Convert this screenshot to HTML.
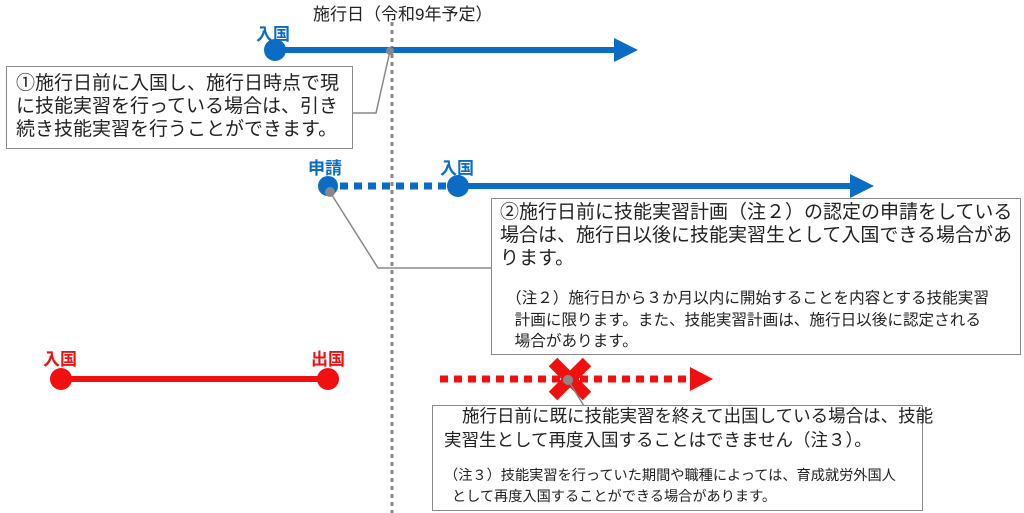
<!DOCTYPE html>
<html><head><meta charset="utf-8"><style>
body{margin:0;width:1024px;height:513px;background:#fff;position:relative;overflow:hidden;font-family:"Liberation Sans","Noto Sans CJK JP",sans-serif;}
.t{position:absolute;white-space:nowrap;color:#222;}
.box{position:absolute;background:#fff;border:1.5px solid #8a8a8a;box-sizing:border-box;}
.b{font-size:19px;line-height:23px;}
.n{font-size:15.6px;line-height:21.5px;}
.lb{position:absolute;font-weight:bold;font-size:17px;}
</style></head><body>
<svg width="1024" height="513" style="position:absolute;left:0;top:0">
<line x1="392" y1="22" x2="392" y2="513" stroke="#888" stroke-width="3" stroke-dasharray="4,4"/>
<line x1="275" y1="50" x2="616" y2="50" stroke="#0a6cc4" stroke-width="6"/>
<polygon points="614,38 638,50 614,62" fill="#0a6cc4"/>
<circle cx="275" cy="50" r="11" fill="#0a6cc4"/>
<line x1="340" y1="186" x2="450" y2="186" stroke="#0a6cc4" stroke-width="7" stroke-dasharray="8,6"/>
<line x1="458" y1="186" x2="852" y2="186" stroke="#0a6cc4" stroke-width="6"/>
<polygon points="850,174 874,186 850,198" fill="#0a6cc4"/>
<circle cx="328" cy="186" r="10" fill="#0a6cc4"/>
<circle cx="458" cy="186" r="11" fill="#0a6cc4"/>
<line x1="61" y1="379" x2="328" y2="379" stroke="#f01010" stroke-width="6"/>
<circle cx="61" cy="379" r="11" fill="#f01010"/>
<circle cx="328" cy="379" r="11" fill="#f01010"/>
<line x1="440" y1="379" x2="692" y2="379" stroke="#f01010" stroke-width="7" stroke-dasharray="8,6"/>
<polygon points="690,367 713,379 690,391" fill="#f01010"/>
<line x1="553" y1="362" x2="587" y2="396" stroke="#f01010" stroke-width="12"/>
<line x1="587" y1="362" x2="553" y2="396" stroke="#f01010" stroke-width="12"/>
<polyline points="352,113 376,113 390,51" fill="none" stroke="#888" stroke-width="1.5"/>
<circle cx="390" cy="51" r="4" fill="#888"/>
<polyline points="330,192 378,268 492,268" fill="none" stroke="#888" stroke-width="1.5"/>
<circle cx="330" cy="192" r="5" fill="#888"/>
<line x1="568" y1="380" x2="584" y2="406" stroke="#888" stroke-width="1.5"/>
<circle cx="568" cy="380" r="5" fill="#888"/>
</svg>
<div class="t" style="left:313px;top:0px;font-size:17px;">施行日（令和9年予定）</div>
<div class="lb" style="left:256px;top:20px;color:#0a6cc4">入国</div>
<div class="lb" style="left:308px;top:154px;color:#0a6cc4">申請</div>
<div class="lb" style="left:440px;top:154px;color:#0a6cc4">入国</div>
<div class="lb" style="left:43px;top:345px;color:#f01010">入国</div>
<div class="lb" style="left:311px;top:345px;color:#f01010">出国</div>
<div class="box" style="left:6px;top:66px;width:347px;height:83px;"></div>
<div class="t b" style="left:16px;top:72px;">①施行日前に入国し、施行日時点で現<br>に技能実習を行っている場合は、引き<br>続き技能実習を行うことができます。</div>
<div class="box" style="left:491px;top:198px;width:530px;height:157px;"></div>
<div class="t b" style="left:500px;top:201px;">②施行日前に技能実習計画（注２）の認定の申請をしている<br>場合は、施行日以後に技能実習生として入国できる場合があ<br>ります。</div>
<div class="t n" style="left:506px;top:288px;">（注２）施行日から３か月以内に開始することを内容とする技能実習<br>&nbsp;&nbsp;計画に限ります。また、技能実習計画は、施行日以後に認定される<br>&nbsp;&nbsp;場合があります。</div>
<div class="box" style="left:432px;top:405px;width:491px;height:106px;"></div>
<div class="t" style="left:444px;top:404px;font-size:17.5px;line-height:24px;"><span style="padding-left:18px"></span>施行日前に既に技能実習を終えて出国している場合は、技能<br>実習生として再度入国することはできません（注３）。</div>
<div class="t" style="left:444px;top:466px;font-size:14.2px;line-height:21px;">（注３）技能実習を行っていた期間や職種によっては、育成就労外国人<br>&nbsp;&nbsp;として再度入国することができる場合があります。</div>
</body></html>
